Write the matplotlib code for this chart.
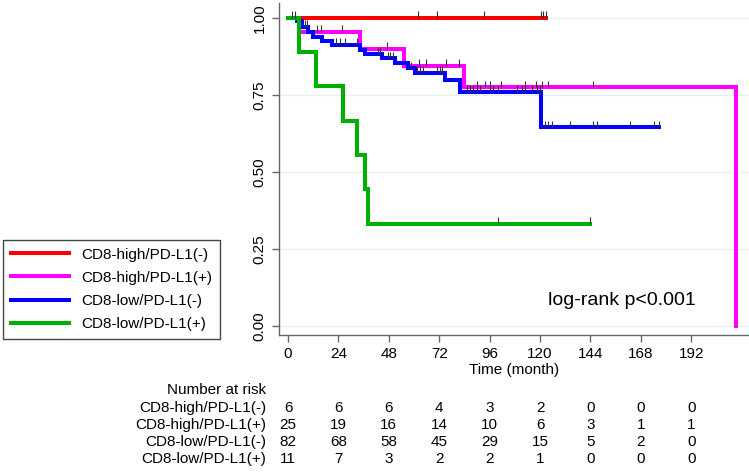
import numpy as np
import matplotlib
matplotlib.use("Agg")
import matplotlib.pyplot as plt
import matplotlib.transforms as mtransforms

plt.rcParams['font.family'] = ['Liberation Sans', 'DejaVu Sans']

# Kaplan-Meier step data (time in months, survival probability)
groups = ["CD8-high/PD-L1(-)", "CD8-high/PD-L1(+)", "CD8-low/PD-L1(-)", "CD8-low/PD-L1(+)"]
colors = ["#ff0000", "#ff00ff", "#0000ff", "#00b000"]

red_t = [0, 123]
red_s = [1.0, 1.0]
red_cens = [62, 71, 93.5, 120.5, 121.5, 123]

mag_t = [0, 5, 34.3, 55, 84, 213.5]
mag_s = [1.0, 0.955, 0.90, 0.844, 0.775, 0.0]
mag_cens = [13.7, 15.5, 25.6, 47, 62.4, 65.7, 75.2, 81.4, 89.8, 93.8, 96,
            101.6, 112.9, 118.2, 120.7, 124, 145]

blue_t = [0, 4.1, 6.5, 9.7, 12.1, 16, 20.8, 34.3, 36.7, 44.6, 51, 57.3,
          60.5, 74.8, 81.9, 120.5, 176.8]
blue_s = [1.0, 0.99, 0.972, 0.955, 0.939, 0.926, 0.912, 0.898, 0.885, 0.869,
          0.853, 0.837, 0.821, 0.80, 0.76, 0.645, 0.645]
blue_cens = [1.7, 3.3, 8.1, 8.9, 22.9, 24.8, 27.1, 32.7, 42.7, 43.8, 47.5,
             48.6, 50.1, 58.5, 61.3, 62.9, 64.4, 70.8, 72.4, 73.2, 85, 86.5,
             88.2, 89.8, 91.4, 96.2, 97.8, 100.1, 108.9, 111.3, 112.9, 116,
             118.4, 120, 122.4, 124, 125.6, 134.3, 145, 147.3, 162.9, 174.4,
             176.8]

green_t = [0, 5.2, 13.4, 26, 33, 36.7, 38, 144]
green_s = [1.0, 0.889, 0.778, 0.667, 0.556, 0.444, 0.333, 0.333]
green_cens = [100, 144]

# Number at risk table
risk_times = [0, 24, 48, 72, 96, 120, 144, 168, 192]
risk_red = [6, 6, 6, 4, 3, 2, 0, 0, 0]
risk_mag = [25, 19, 16, 14, 10, 6, 3, 1, 1]
risk_blue = [82, 68, 58, 45, 29, 15, 5, 2, 0]
risk_green = [11, 7, 3, 2, 2, 1, 0, 0, 0]

FS = 11
W, H = 749, 472
fig = plt.figure(figsize=(W / 100, H / 100), dpi=100)
ax = fig.add_axes([279 / W, 1 - 335 / H, (749 - 279) / W, (335 - 3) / H])

curves = [(red_t, red_s, red_cens), (mag_t, mag_s, mag_cens),
          (blue_t, blue_s, blue_cens), (green_t, green_s, green_cens)]

lines = []
for (t, s, cens), col, lab in zip(curves, colors, groups):
    ln, = ax.step(t, s, where='post', color=col, lw=2.9, label=lab,
                  solid_joinstyle='miter', zorder=3)
    lines.append(ln)
    # censoring marks sit on the curve
    idx = np.searchsorted(t, cens, side='right') - 1
    ys = np.array(s)[idx]
    ax.vlines(cens, ys, ys + 0.022, color='#333333', lw=0.8, zorder=4)

ax.set_xlim(-4.3, 219.5)
ax.set_ylim(-0.029, 1.049)
ax.set_xticks(risk_times)
ax.set_yticks([0, 0.25, 0.5, 0.75, 1.0])
ax.set_yticklabels(["0.00", "0.25", "0.50", "0.75", "1.00"], rotation=90,
                   va='center')
ax.grid(axis='y', color='#e6eff2', lw=1.0, zorder=0)
for side in ['top', 'right']:
    ax.spines[side].set_visible(False)
for side in ['left', 'bottom']:
    ax.spines[side].set_color('#666666')
    ax.spines[side].set_linewidth(1.0)
ax.tick_params(axis='both', colors='#666666', labelcolor='black',
               labelsize=FS, direction='out', length=5, width=1.0)
ax.tick_params(axis='x', pad=4)
ax.tick_params(axis='y', pad=4)
ax.set_xlabel("Time (month)", fontsize=FS, labelpad=1)

ax.text(159, 0.084, "log-rank p<0.001", fontsize=14, ha='center',
        va='center')

# Legend at the left
fig.legend(handles=lines, labels=groups, loc='upper left',
           bbox_to_anchor=(3 / W, 1 - 240 / H), borderaxespad=0,
           fontsize=FS, handlelength=3.8, handletextpad=0.8,
           labelspacing=0.6, borderpad=0.5, fancybox=False,
           edgecolor='#444444', framealpha=1)

# Number at risk table
trans = mtransforms.blended_transform_factory(ax.transData, fig.transFigure)
fig.text(266 / W, 1 - 390 / H, "Number at risk", fontsize=FS, ha='right',
         va='center')
rows = [risk_red, risk_mag, risk_blue, risk_green]
row_y = [408, 425, 442, 459]
for lab, vals, py in zip(groups, rows, row_y):
    fig.text(266 / W, 1 - py / H, lab, fontsize=FS, ha='right', va='center')
    for t, v in zip(risk_times, vals):
        ax.text(t, 1 - py / H, str(v), fontsize=FS, ha='center',
                va='center', transform=trans, clip_on=False)

fig.savefig("out.png", dpi=100)
